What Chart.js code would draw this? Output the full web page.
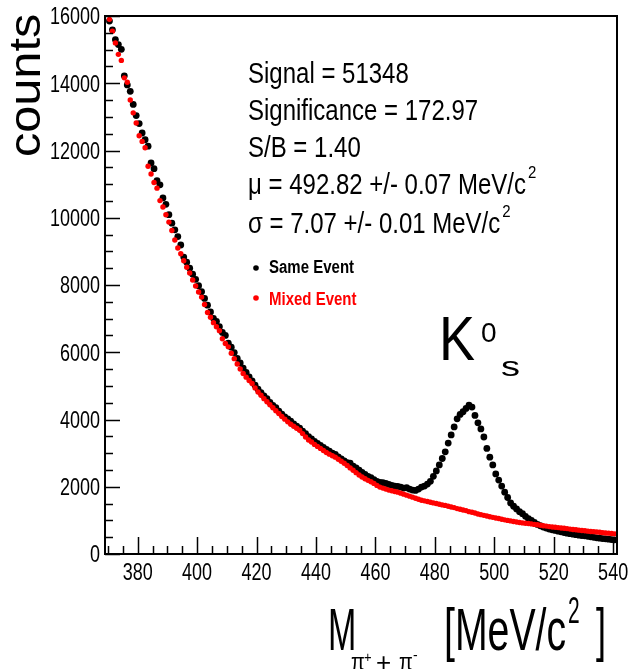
<!DOCTYPE html>
<html>
<head>
<meta charset="utf-8">
<title>K0s invariant mass</title>
<script src="https://cdn.jsdelivr.net/npm/chart.js@4.4.1/dist/chart.umd.min.js"></script>
<style>
  body { margin: 0; background: #fff; }
  canvas { display: block; }
</style>
</head>
<body>
<canvas id="grafico" width="631" height="669"></canvas>
<script>
// bin centres in MeV/c^2
const masa = [
  370.5, 371.5, 372.5, 373.5, 374.5, 375.5, 376.5, 377.5, 378.5, 379.5,
  380.5, 381.5, 382.5, 383.5, 384.5, 385.5, 386.5, 387.5, 388.5, 389.5,
  390.5, 391.5, 392.5, 393.5, 394.5, 395.5, 396.5, 397.5, 398.5, 399.5,
  400.5, 401.5, 402.5, 403.5, 404.5, 405.5, 406.5, 407.5, 408.5, 409.5,
  410.5, 411.5, 412.5, 413.5, 414.5, 415.5, 416.5, 417.5, 418.5, 419.5,
  420.5, 421.5, 422.5, 423.5, 424.5, 425.5, 426.5, 427.5, 428.5, 429.5,
  430.5, 431.5, 432.5, 433.5, 434.5, 435.5, 436.5, 437.5, 438.5, 439.5,
  440.5, 441.5, 442.5, 443.5, 444.5, 445.5, 446.5, 447.5, 448.5, 449.5,
  450.5, 451.5, 452.5, 453.5, 454.5, 455.5, 456.5, 457.5, 458.5, 459.5,
  460.5, 461.5, 462.5, 463.5, 464.5, 465.5, 466.5, 467.5, 468.5, 469.5,
  470.5, 471.5, 472.5, 473.5, 474.5, 475.5, 476.5, 477.5, 478.5, 479.5,
  480.5, 481.5, 482.5, 483.5, 484.5, 485.5, 486.5, 487.5, 488.5, 489.5,
  490.5, 491.5, 492.5, 493.5, 494.5, 495.5, 496.5, 497.5, 498.5, 499.5,
  500.5, 501.5, 502.5, 503.5, 504.5, 505.5, 506.5, 507.5, 508.5, 509.5,
  510.5, 511.5, 512.5, 513.5, 514.5, 515.5, 516.5, 517.5, 518.5, 519.5,
  520.5, 521.5, 522.5, 523.5, 524.5, 525.5, 526.5, 527.5, 528.5, 529.5,
  530.5, 531.5, 532.5, 533.5, 534.5, 535.5, 536.5, 537.5, 538.5, 539.5,
  540.5
];

// Same Event (black)
const mismoEvento = [
  15850, 15590, 15300, 15150, 15010, 14220, 13950, 13760, 13370, 13040,
  12800, 12520, 12320, 12130, 11630, 11460, 11100, 10980, 10590, 10400,
  10090, 9840, 9640, 9440, 9190, 8830, 8680, 8500, 8320, 8170,
  7980, 7800, 7600, 7400, 7200, 7010, 6920, 6760, 6590, 6500,
  6270, 6150, 5990, 5820, 5680, 5530, 5400, 5270, 5150, 5020,
  4900, 4800, 4700, 4620, 4510, 4420, 4350, 4250, 4160, 4080,
  4020, 3950, 3870, 3800, 3740, 3650, 3580, 3490, 3420, 3350,
  3290, 3230, 3170, 3110, 3060, 3000, 2960, 2890, 2830, 2770,
  2720, 2700, 2610, 2560, 2490, 2430, 2370, 2310, 2270, 2210,
  2160, 2130, 2120, 2100, 2070, 2040, 2020, 2010, 1990, 1960,
  1970, 1930, 1900, 1890, 1930, 1990, 2020, 2080, 2160, 2310,
  2470, 2650, 2840, 3040, 3300, 3540, 3780, 4020, 4150, 4230,
  4330, 4430, 4370, 4120, 3900, 3720, 3480, 3140, 2880, 2650,
  2380, 2200, 2020, 1840, 1680, 1520, 1420, 1340, 1260, 1200,
  1120, 1050, 1000, 940, 880, 840, 800, 770, 740, 720,
  700, 680, 660, 640, 620, 605, 590, 575, 560, 550,
  540, 525, 510, 495, 480, 470, 460, 450, 440, 430,
  420
];

// Mixed Event (red)
const eventoMezclado = [
  15900, 15550, 15200, 14860, 14680, 14160, 14030, 13500, 13120, 12820,
  12440, 12270, 12080, 11530, 11300, 11050, 10880, 10510, 10320, 10090,
  9870, 9620, 9340, 9100, 8930, 8720, 8530, 8360, 8150, 7970,
  7790, 7640, 7420, 7180, 7040, 6880, 6760, 6640, 6400, 6260,
  6160, 5970, 5810, 5650, 5500, 5370, 5260, 5160, 5070, 4940,
  4820, 4720, 4620, 4530, 4440, 4350, 4260, 4180, 4090, 4010,
  3930, 3860, 3800, 3740, 3680, 3580, 3480, 3390, 3330, 3260,
  3200, 3140, 3080, 3020, 2970, 2920, 2880, 2820, 2760, 2700,
  2630, 2560, 2490, 2420, 2350, 2290, 2240, 2190, 2150, 2100,
  2040, 1990, 1960, 1930, 1900, 1880, 1860, 1840, 1810, 1780,
  1750, 1720, 1690, 1660, 1630, 1600, 1580, 1560, 1540, 1520,
  1500, 1480, 1460, 1445, 1420, 1400, 1380, 1350, 1330, 1310,
  1290, 1260, 1240, 1220, 1190, 1170, 1150, 1130, 1110, 1090,
  1070, 1055, 1035, 1015, 1000, 985, 965, 950, 935, 925,
  915, 905, 895, 880, 870, 855, 840, 830, 815, 805,
  795, 785, 775, 765, 755, 740, 730, 720, 710, 700,
  690, 680, 670, 665, 655, 645, 635, 625, 620, 610,
  600
];

const xTicks = [380, 400, 420, 440, 460, 480, 500, 520, 540];
const yTicks = [0, 2000, 4000, 6000, 8000, 10000, 12000, 14000, 16000];

const statLines = [
  "Signal = 51348",
  "Significance = 172.97",
  "S/B = 1.40",
  "\u03bc = 492.82 +/- 0.07 MeV/c",
  "\u03c3 = 7.07 +/- 0.01 MeV/c"
];

const FONT = '"Liberation Sans", Arial, Helvetica, sans-serif';

// ROOT text looks vertically stretched, so scale each string by hand
function texto(ctx, str, x, y, size, sy, opts = {}) {
  ctx.save();
  ctx.translate(x, y);
  ctx.scale(opts.sx || 1, sy);
  ctx.font = `${opts.bold ? 'bold ' : ''}${size}px ${FONT}`;
  ctx.fillStyle = opts.color || '#000';
  ctx.textAlign = opts.align || 'left';
  ctx.textBaseline = 'alphabetic';
  ctx.fillText(str, 0, 0);
  const w = ctx.measureText(str).width * (opts.sx || 1);
  ctx.restore();
  return w;
}

const estiloRoot = {
  id: 'estiloRoot',
  afterDraw(chart) {
    const { ctx, chartArea: a, scales: { x, y } } = chart;
    ctx.save();
    ctx.strokeStyle = '#000';

    // ticks on the left axis
    ctx.lineWidth = 1.5;
    ctx.beginPath();
    for (let v = 0; v <= 16000; v += 500) {
      const py = Math.round(y.getPixelForValue(v)) + 0.5;
      const len = v % 2000 === 0 ? 15 : 8;
      ctx.moveTo(a.left, py);
      ctx.lineTo(a.left + len, py);
    }
    // ticks on the bottom axis
    for (let v = 370; v <= 541; v += 5) {
      const px = Math.round(x.getPixelForValue(v)) + 0.5;
      const len = v % 20 === 0 ? 17 : 8;
      ctx.moveTo(px, a.bottom);
      ctx.lineTo(px, a.bottom - len);
    }
    ctx.stroke();

    // frame
    ctx.lineWidth = 2;
    ctx.strokeRect(a.left, a.top, a.right - a.left, a.bottom - a.top);
    ctx.restore();

    // tick labels
    yTicks.forEach(v => {
      texto(ctx, String(v), a.left - 5, y.getPixelForValue(v) + 8.4, 18, 1.3, { align: 'right' });
    });
    xTicks.forEach(v => {
      texto(ctx, String(v), x.getPixelForValue(v), a.bottom + 26, 18, 1.3, { align: 'center' });
    });

    // y title
    ctx.save();
    ctx.translate(40, 157);
    ctx.rotate(-Math.PI / 2);
    ctx.scale(1.08, 1);
    ctx.font = `45px ${FONT}`;
    ctx.fillStyle = '#000';
    ctx.fillText('counts', 0, 0);
    ctx.restore();

    // x title  M_{pi+ + pi-} [MeV/c^2]
    texto(ctx, 'M', 328, 650, 34, 1.75);
    texto(ctx, '\u03c0', 351, 670, 20, 1.2);
    texto(ctx, '+', 364, 662, 13, 1.1);
    texto(ctx, '+', 376, 671, 26, 1.0);
    texto(ctx, '\u03c0', 399, 670, 20, 1.2);
    texto(ctx, '-', 413, 660, 14, 1.1);
    texto(ctx, '[MeV/c', 444, 650, 36, 1.65, { sx: 1.09 });
    texto(ctx, '2', 568, 623, 21, 1.75);
    texto(ctx, ']', 596, 650, 36, 1.65);

    // fit results
    const bases = [83, 120, 157, 194, 233];
    statLines.forEach((s, i) => {
      const w = texto(ctx, s, 248, bases[i], 24, 1.2);
      if (i >= 3) texto(ctx, '2', 248 + w + 2, bases[i] - 16, 15, 1.1);
    });

    // legend
    const items = [
      { label: 'Same Event', color: '#000000', y: 268, base: 273 },
      { label: 'Mixed Event', color: '#ff0000', y: 298, base: 305 }
    ];
    items.forEach(it => {
      ctx.beginPath();
      ctx.fillStyle = it.color;
      ctx.arc(256, it.y, 2.8, 0, Math.PI * 2);
      ctx.fill();
      texto(ctx, it.label, 269, it.base, 15, 1.2, { bold: true, color: it.color });
    });

    // K0s label
    texto(ctx, 'K', 439, 360, 54, 1.15);
    texto(ctx, '0', 481, 342, 28, 1.0);
    texto(ctx, 's', 501, 376, 38, 0.73);
  }
};

const puntos = (ys) => masa.map((m, i) => ({ x: m, y: ys[i] }));

const config = {
  type: 'scatter',
  data: {
    datasets: [
      {
        label: 'Mixed Event',
        data: puntos(eventoMezclado),
        backgroundColor: '#ff0000',
        borderWidth: 0,
        pointRadius: 2.7,
        order: 1
      },
      {
        label: 'Same Event',
        data: puntos(mismoEvento),
        backgroundColor: '#000000',
        borderWidth: 0,
        pointRadius: 3.4,
        order: 2
      }
    ]
  },
  options: {
    responsive: false,
    animation: false,
    devicePixelRatio: 1,
    layout: { padding: { left: 105, right: 14, top: 16, bottom: 115 } },
    plugins: {
      legend: { display: false },
      tooltip: { enabled: false }
    },
    scales: {
      x: {
        type: 'linear',
        min: 369,
        max: 541.3,
        ticks: { display: false },
        grid: { display: false, drawTicks: false },
        border: { display: false },
        afterFit: (s) => { s.height = 0; }
      },
      y: {
        min: 0,
        max: 16000,
        ticks: { display: false },
        grid: { display: false, drawTicks: false },
        border: { display: false },
        afterFit: (s) => { s.width = 0; }
      }
    }
  },
  plugins: [estiloRoot]
};

const canvas = document.getElementById('grafico');
const ctx = canvas.getContext('2d');
new Chart(ctx, config);
</script>
</body>
</html>
